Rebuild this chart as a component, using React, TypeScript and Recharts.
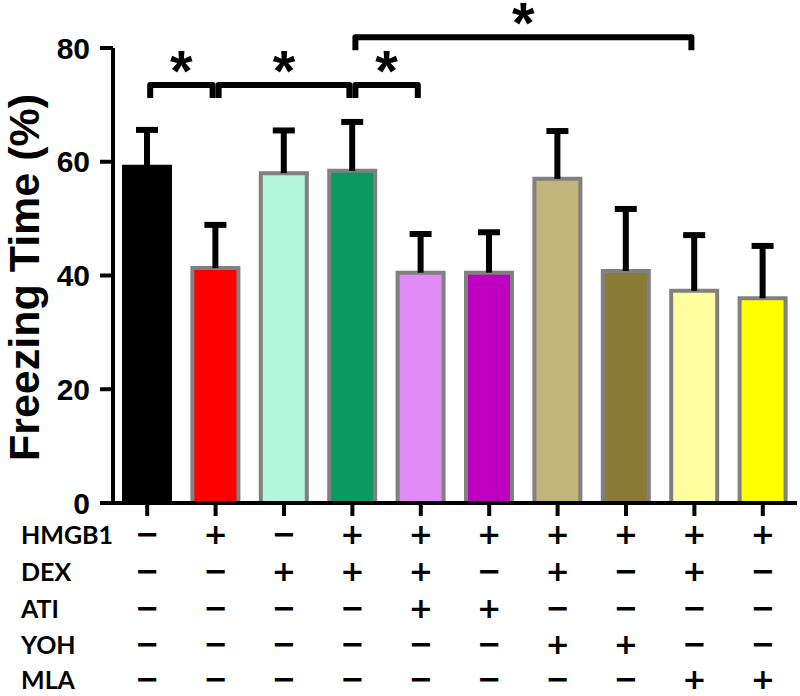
import React from "react";
import { BarChart, Bar, XAxis, YAxis, Cell, ReferenceLine, Label } from "recharts";

const categories = [
  "Control",
  "HMGB1",
  "DEX",
  "HMGB1+DEX",
  "HMGB1+DEX+ATI",
  "HMGB1+ATI",
  "HMGB1+DEX+YOH",
  "HMGB1+YOH",
  "HMGB1+DEX+MLA",
  "HMGB1+MLA",
];
const means = [59.1, 41.3, 58.0, 58.4, 40.5, 40.5, 57.0, 40.8, 37.3, 36.0];
const sems = [6.5, 7.6, 7.5, 8.6, 6.8, 7.1, 8.4, 10.9, 9.8, 9.2];
const colors = [
  "#000000",
  "#ff0000",
  "#b4f6dd",
  "#0b9962",
  "#e08af6",
  "#c000c0",
  "#c0b57b",
  "#8c7b38",
  "#ffffa0",
  "#ffff00",
];
const strokes = [
  "#000000",
  "#808080",
  "#808080",
  "#808080",
  "#808080",
  "#808080",
  "#808080",
  "#808080",
  "#808080",
  "#808080",
];
const factorNames = ["HMGB1", "DEX", "ATI", "YOH", "MLA"];
const factorSigns: string[][] = [
  ["-", "+", "-", "+", "+", "+", "+", "+", "+", "+"],
  ["-", "-", "+", "+", "+", "-", "+", "-", "+", "-"],
  ["-", "-", "-", "-", "+", "+", "-", "-", "-", "-"],
  ["-", "-", "-", "-", "-", "-", "+", "+", "-", "-"],
  ["-", "-", "-", "-", "-", "-", "-", "-", "+", "+"],
];
const yTicks = [0, 20, 40, 60, 80];
const brackets = [
  { from: 0, to: 1, y: 73.5, label: "*" },
  { from: 1, to: 3, y: 73.5, label: "*" },
  { from: 3, to: 4, y: 73.5, label: "*" },
  { from: 3, to: 8, y: 81.9, label: "*" },
];

const data = categories.map((g, i) => ({ group: g, mean: means[i], err: sems[i] }));

const FONT = "'Liberation Sans', Arial, sans-serif";
const SIGN_FONT = "'DejaVu Sans', sans-serif";
const ROW_FONT = "Lato, 'Liberation Sans', sans-serif";
const ROW_OFFSETS = [31, 68, 105, 141, 176];

const ErrorShape = (props: any) => {
  const { x, y, width, height } = props;
  if (x == null || y == null) return null;
  const cx = x + width / 2;
  return (
    <g>
      <line x1={cx} x2={cx} y1={y + height} y2={y} stroke="#000" strokeWidth={6} />
      <line x1={cx - 11} x2={cx + 11} y1={y} y2={y} stroke="#000" strokeWidth={6} />
    </g>
  );
};

const XTick = (props: any) => {
  const { x, y, payload, index } = props;
  const idx = payload && typeof payload.index === "number" ? payload.index : index;
  return (
    <g>
      <line x1={x} x2={x} y1={y} y2={y + 13} stroke="#000" strokeWidth={4} />
      {factorSigns.map((row, r) => (
        <text
          key={r}
          x={x}
          y={y + ROW_OFFSETS[r]}
          textAnchor="middle"
          dominantBaseline="central"
          fontFamily={SIGN_FONT}
          fontWeight="bold"
          fontSize={29}
          fill="#000"
        >
          {row[idx] === "+" ? "+" : "\u2212"}
        </text>
      ))}
      {idx === 0 &&
        factorNames.map((n, r) => (
          <text
            key={"n" + r}
            x={21}
            y={y + ROW_OFFSETS[r]}
            textAnchor="start"
            dominantBaseline="central"
            fontFamily={ROW_FONT}
            fontWeight="bold"
            fontSize={25}
            fill="#000"
          >
            {n}
          </text>
        ))}
    </g>
  );
};

const makeBracketShape = (label: string) => (props: any) => {
  const { x1, x2, y1 } = props;
  if (x1 == null || x2 == null || y1 == null) return null;
  const a = x1 + 3;
  const b = x2 - 3;
  return (
    <g>
      <path
        d={`M${a},${y1 + 13} L${a},${y1} L${b},${y1} L${b},${y1 + 13}`}
        fill="none"
        stroke="#000"
        strokeWidth={6}
        strokeLinejoin="round"
      />
      <text
        x={(a + b) / 2}
        y={y1 + 6}
        textAnchor="middle"
        fontFamily={FONT}
        fontWeight="bold"
        fontSize={58}
        fill="#000"
      >
        {label}
      </text>
    </g>
  );
};

const YLabel = (props: any) => {
  const vb = props.viewBox || { x: 0, y: 48, width: 113, height: 455 };
  const cx = vb.x + 24;
  const cy = vb.y + vb.height / 2 + 2;
  return (
    <text
      x={cx}
      y={cy}
      transform={`rotate(-90, ${cx}, ${cy})`}
      textAnchor="middle"
      dominantBaseline="central"
      fontFamily={FONT}
      fontWeight="bold"
      fontSize={43}
      fill="#000"
    >
      Freezing Time (%)
    </text>
  );
};

export default function App() {
  return (
    <div style={{ position: "absolute", left: 0, top: 0, width: 800, height: 696, background: "#fff" }}>
      <BarChart
        width={800}
        height={696}
        data={data}
        margin={{ top: 48, right: 3, bottom: 0, left: 0 }}
        barCategoryGap={0}
      >
        <XAxis
          dataKey="group"
          type="category"
          interval={0}
          height={193}
          tickLine={false}
          tickSize={0}
          tickMargin={0}
          axisLine={{ stroke: "#000", strokeWidth: 4 }}
          tick={<XTick />}
        />
        <YAxis
          width={113}
          domain={[0, 80]}
          ticks={yTicks}
          interval={0}
          tickSize={13}
          tickMargin={10}
          axisLine={{ stroke: "#000", strokeWidth: 4 }}
          tickLine={{ stroke: "#000", strokeWidth: 4 }}
          tick={{ fontSize: 30, fontWeight: "bold", fill: "#000", fontFamily: FONT }}
        >
          <Label content={<YLabel />} />
        </YAxis>
        <Bar dataKey="mean" stackId="a" barSize={46} isAnimationActive={false} strokeWidth={4}>
          {data.map((d, i) => (
            <Cell key={i} fill={colors[i]} stroke={strokes[i]} strokeWidth={4} />
          ))}
        </Bar>
        <Bar dataKey="err" stackId="a" barSize={46} isAnimationActive={false} shape={<ErrorShape />} />
        {brackets.map((b, i) => (
          <ReferenceLine
            key={i}
            ifOverflow="visible"
            segment={[
              { x: categories[b.from], y: b.y },
              { x: categories[b.to], y: b.y },
            ]}
            shape={makeBracketShape(b.label)}
          />
        ))}
      </BarChart>
    </div>
  );
}
